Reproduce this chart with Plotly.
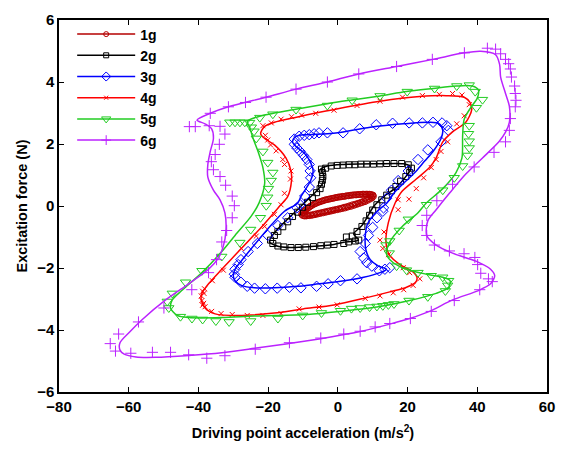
import plotly.graph_objects as go

# ---------------- data ----------------
labels = ["1g", "2g", "3g", "4g", "5g", "6g"]
colors = ["#b40000", "#000000", "#0000ff", "#ff0000", "#22cc22", "#bb22ff"]
symbols = ["circle-open", "square-open", "diamond-open", "x-thin-open", "triangle-down-open", "cross-thin-open"]

# 1g
x1_line = [-10.5, -9.0, -6.5, -3.0, 0.0, 3.0, 6.0, 8.5, 10.3, 9.5, 7.0, 4.0, 0.0, -3.0, -6.5, -9.0, -10.5]
y1_line = [-0.28, -0.12, 0.06, 0.20, 0.28, 0.34, 0.37, 0.38, 0.36, 0.25, 0.12, -0.02, -0.14, -0.22, -0.30, -0.33, -0.28]
x1_mk = [-10.4, -9.8, -9.2, -8.5, -7.8, -7.0, -6.2, -5.4, -4.6, -3.8, -3.0, -2.2, -1.4, -0.6, 0.2, 1.0, 1.8, 2.6, 3.4,
         4.2, 5.0, 5.8, 6.6, 7.4, 8.2, 9.0, 9.6, 10.1, 10.2, 9.8, 9.2, 8.5, 7.8, 7.0, 6.2, 5.4, 4.6, 3.8, 3.0, 2.2,
         1.4, 0.6, -0.2, -1.0, -1.8, -2.6, -3.4, -4.2, -5.0, -5.8, -6.6, -7.4, -8.2, -9.0, -9.7, -10.2,
         -10.1, -9.5, -8.8, -8.1, -7.4, -6.6, -5.8, -5.0, -4.2, -3.4, -2.6, -1.8, -1.0, -0.2, 0.6, 1.4, 2.2, 3.0,
         3.8, 4.6, 5.4, 6.2, 7.0, 7.8, 8.6, 9.3, 9.9, 9.5, 8.9, 8.2, 7.4, 6.6, 5.8, 5.0, 4.2, 3.4, 2.6, 1.8, 1.0,
         0.2, -0.6, -1.4, -2.2, -3.0, -3.8, -4.6, -5.4, -6.2, -7.0, -7.8, -8.6, -9.4]
y1_mk = [-0.26, -0.18, -0.12, -0.06, 0.00, 0.05, 0.09, 0.13, 0.16, 0.19, 0.21, 0.23, 0.25, 0.27, 0.29, 0.30, 0.31, 0.33,
         0.34, 0.35, 0.36, 0.37, 0.37, 0.38, 0.38, 0.38, 0.37, 0.35, 0.31, 0.26, 0.22, 0.18, 0.14, 0.11, 0.08, 0.05,
         0.02, -0.01, -0.03, -0.06, -0.08, -0.10, -0.12, -0.14, -0.16, -0.18, -0.20, -0.22, -0.24, -0.26, -0.28,
         -0.30, -0.31, -0.32, -0.32, -0.30,
         -0.22, -0.15, -0.09, -0.03, 0.02, 0.07, 0.11, 0.14, 0.17, 0.20, 0.22, 0.24, 0.26, 0.28, 0.29, 0.31, 0.32,
         0.33, 0.35, 0.36, 0.36, 0.37, 0.38, 0.38, 0.38, 0.37, 0.34, 0.28, 0.24, 0.20, 0.16, 0.12, 0.09, 0.06,
         0.04, 0.01, -0.02, -0.04, -0.07, -0.09, -0.11, -0.13, -0.15, -0.17, -0.19, -0.21, -0.23, -0.25, -0.27,
         -0.29, -0.31, -0.32]

# 2g
x2_line = [-4.9, -3.0, 1.7, 11.2, 18.75, 20.6, 20.9, 19.7, 16.85, 13.1, 10.3, 8.3, 6.9, 4.55, 5.9, 3.0, 1.7, -1.1,
           -7.8, -13.45, -17.7, -19.6, -19.1, -16.3, -12.5, -8.7, -5.9, -4.4, -4.0, -4.9]
y2_line = [1.19, 1.29, 1.34, 1.36, 1.36, 1.29, 1.19, 0.98, 0.61, 0.30, -0.01, -0.38, -0.63, -0.90, -1.10, -1.15,
           -1.17, -1.24, -1.31, -1.34, -1.28, -1.16, -1.0, -0.63, -0.22, 0.20, 0.51, 0.72, 0.98, 1.19]
x2_mk = [-3.5, -1.9, -0.2, 1.5, 3.2, 4.9, 6.6, 8.3, 10.2, 12.1, 14.0, 16.1, 18.3, 20.2, 21.1, 20.6, 19.5, 18.0, 16.65,
         15.4, 14.0, 12.6, 11.2, 10.0, 9.1, 8.1, 6.9, 5.5, 4.1, 2.45, 3.1, 5.0, 6.0, 1.7, -1.1, -3.0, -4.9, -7.0,
         -9.2, -11.35, -13.45, -15.5, -17.2, -18.65, -19.3, -18.2, -17.2, -15.8, -14.4, -13.0, -11.55, -10.1, -8.7,
         -7.3, -6.1, -5.1, -4.7, -4.45, -4.3, -4.45, -4.7]
y2_mk = [1.22, 1.29, 1.31, 1.32, 1.33, 1.33, 1.35, 1.35, 1.35, 1.36, 1.37, 1.37, 1.37, 1.33, 1.22, 1.08, 0.95, 0.80,
         0.63, 0.49, 0.35, 0.20, 0.04, -0.13, -0.30, -0.48, -0.66, -0.82, -0.97, -1.0, -1.16, -1.13, -1.10, -1.21,
         -1.24, -1.26, -1.28, -1.31, -1.33, -1.34, -1.34, -1.32, -1.29, -1.21, -1.10, -0.95, -0.82, -0.67, -0.51,
         -0.34, -0.20, -0.04, 0.12, 0.27, 0.43, 0.56, 0.70, 0.83, 0.95, 1.08, 1.19]

# 3g
x3_line = [-13.0, -12.5, -11.1, -8.7, -3.0, 0.0, 9.3, 18.75, 26.3, 29.1, 30.1, 29.6, 27.3, 24.9, 22.5, 19.7, 16.4,
           14.0, 11.0, 8.5, 7.85, 8.05, 9.3, 11.65, 14.0, 12.1, 7.4, 0.75, -6.8, -11.55, -18.2, -23.9, -27.7, -29.5,
           -30.0, -29.5, -28.1, -24.8, -20.1, -15.3, -11.55, -10.6, -7.8, -7.1, -7.8, -9.65, -12.0, -13.0]
y3_line = [2.07, 2.20, 2.28, 2.30, 2.33, 2.36, 2.54, 2.65, 2.70, 2.65, 2.44, 2.18, 1.76, 1.45, 1.13, 0.82, 0.46,
           0.09, -0.20, -0.58, -1.0, -1.42, -1.73, -1.94, -2.04, -2.15, -2.30, -2.43, -2.53, -2.59, -2.64, -2.64,
           -2.56, -2.41, -2.25, -2.04, -1.83, -1.37, -0.74, -0.17, 0.09, 0.30, 0.82, 1.13, 1.40, 1.71, 1.92, 2.07]
x3_mk = [-12.5, -12.5, -11.75, -10.8, -9.85, -8.9, -8.2, -7.95, -7.8, -8.2, -9.5, -10.8, -11.75, -14.4, -17.2,
         -20.1, -23.1, -25.75, -27.8, -28.6, -29.5, -29.7, -29.5, -27.8, -26.0, -23.9, -20.8, -17.4, -13.9, -10.6,
         -6.1, -2.8, 0.75, 5.5, 11.9, 13.5, 14.9, 9.75, 8.3, 7.4, 6.4, 7.85, 8.8, 10.0, 11.2, 12.9, 13.1, 14.0, 15.4,
         17.3, 20.2, 23.0, 25.8, 29.6, 31.7, 31.25, 29.9, 27.3, 24.25, 20.45, 15.7, 11.0, 6.25, 1.5, -3.0, -5.4,
         -6.8, -8.2, -9.65, -11.1]
y3_mk = [2.16, 1.99, 1.87, 1.76, 1.63, 1.50, 1.34, 1.13, 0.91, 0.61, 0.32, 0.04, -0.06, -0.38, -0.63, -0.95, -1.21,
         -1.47, -1.73, -1.89, -2.04, -2.20, -2.30, -2.46, -2.59, -2.65, -2.67, -2.65, -2.62, -2.64, -2.59, -2.51,
         -2.41, -2.35, -2.09, -2.04, -1.99, -1.94, -1.83, -1.68, -1.47, -1.21, -0.95, -0.69, -0.38, -0.17, -0.06,
         0.25, 0.51, 0.82, 1.13, 1.50, 1.81, 2.07, 2.44, 2.59, 2.68, 2.70, 2.68, 2.68, 2.67, 2.62, 2.49, 2.36, 2.36,
         2.36, 2.33, 2.30, 2.28, 2.25]

# 4g
x4_line = [-22.15, -21.0, -18.2, -12.5, -4.9, 0.0, 12.1, 23.5, 31.05, 36.25, 37.9, 38.4, 36.7, 32.9, 30.1, 28.2,
           26.3, 22.5, 18.3, 16.4, 14.5, 13.8, 14.75, 17.8, 21.1, 22.7, 22.3, 19.7, 14.9, 7.4, -1.1, -10.0, -18.2,
           -28.6, -35.2, -38.1, -39.2, -39.0, -37.1, -33.3, -27.7, -22.0, -16.75, -14.4, -13.3, -13.45, -14.9,
           -18.2, -21.0, -22.15]
y4_line = [2.33, 2.57, 2.70, 2.85, 3.03, 3.14, 3.38, 3.53, 3.56, 3.51, 3.34, 3.11, 2.70, 2.39, 2.07, 1.55, 1.24,
           0.87, 0.46, 0.09, -0.53, -1.16, -1.57, -1.89, -2.09, -2.30, -2.46, -2.62, -2.77, -2.98, -3.19, -3.32,
           -3.45, -3.53, -3.48, -3.29, -3.03, -2.82, -2.51, -2.04, -1.37, -0.69, -0.01, 0.30, 0.82, 1.13, 1.55,
           1.97, 2.18, 2.33]
x4_mk = [-21.5, -19.1, -16.3, -13.3, -10.4, -6.35, -1.1, 5.5, 12.1, 18.55, 24.25, 29.1, 32.9, 35.6, 37.7, 36.25,
         34.1, 31.5, 29.6, 28.2, 26.8, 24.6, 22.5, 20.4, 17.3, 17.3, 13.25, 12.1, 12.9, 14.5, 18.75, 20.6, 23.5,
         21.6, 18.9, 15.9, 12.1, 7.85, -0.2, -5.4, -11.1, -16.3, -21.5, -26.0, -30.3, -33.5, -36.2, -38.1, -38.5,
         -38.8, -39.0, -39.2, -38.8, -38.4, -38.25, -36.0, -32.85, -27.7, -23.4, -21.0, -18.2, -16.3, -15.3,
         -13.6, -13.45, -15.3, -15.8, -17.7, -19.3, -20.1, -20.8]
y4_mk = [2.59, 2.68, 2.80, 2.88, 2.93, 2.99, 3.09, 3.24, 3.38, 3.51, 3.56, 3.60, 3.63, 3.58, 3.27, 2.91, 2.65, 2.07,
         1.76, 1.50, 1.24, 0.91, 0.56, 0.22, 0.20, -0.12, -0.84, -1.10, -1.37, -1.57, -1.99, -2.15, -2.35, -2.56,
         -2.70, -2.80, -2.90, -2.98, -3.19, -3.26, -3.32, -3.47, -3.53, -3.53, -3.50, -3.47, -3.40, -3.25, -3.14,
         -3.20, -3.05, -2.90, -2.75, -2.82, -2.67, -2.41, -2.07, -1.37, -0.97, -0.66, -0.27, 0.04, 0.41, 0.87,
         1.13, 1.34, 1.50, 1.78, 1.97, 2.13, 2.28]

# 5g
x5_line = [-26.0, -22.9, -12.5, -3.0, 4.0, 12.1, 19.7, 27.3, 33.9, 38.6, 40.3, 40.0, 38.1, 36.25, 35.8, 35.6, 33.9,
           30.1, 25.3, 23.0, 18.75, 14.9, 14.0, 15.9, 19.7, 25.4, 30.1, 32.2, 31.8, 28.2, 20.6, 11.2, 0.75, -8.7,
           -23.9, -33.3, -42.8, -46.1, -48.0, -47.5, -44.7, -39.0, -33.3, -29.5, -24.8, -22.6, -21.0, -21.5, -22.9,
           -24.3, -25.3, -26.0]
y5_line = [2.73, 2.88, 3.11, 3.30, 3.42, 3.55, 3.69, 3.79, 3.87, 3.87, 3.74, 3.48, 3.17, 2.80, 2.28, 1.55, 1.08,
           0.56, 0.09, -0.22, -0.63, -1.16, -1.57, -1.83, -2.04, -2.20, -2.30, -2.41, -2.62, -2.82, -3.05, -3.26,
           -3.40, -3.50, -3.55, -3.60, -3.60, -3.53, -3.29, -3.03, -2.72, -2.15, -1.47, -0.95, -0.32, 0.10, 0.72,
           1.24, 1.76, 2.18, 2.54, 2.73]
x5_mk = [-31.0, -29.5, -28.1, -26.7, -25.3, -24.8, -24.05, -23.4, -21.5, -20.1, -18.65, -19.1, -19.9, -20.1,
         -20.55, -22.2, -25.0, -28.1, -33.3, -39.0, -43.7, -47.5, -48.95, -48.5, -45.15, -41.85, -38.8, -35.0,
         -31.2, -25.0, -17.2, -10.1, -4.7, 0.75, 3.9, 6.4, 9.1, 11.2, 12.9, 14.5, 16.1, 20.4, 25.8, 30.85, 31.5,
         31.8, 30.1, 26.8, 23.0, 19.7, 16.85, 14.75, 13.8, 14.9, 17.6, 20.2, 25.4, 30.1, 33.4, 35.8, 37.2, 37.7,
         37.7, 37.5, 37.7, 39.75, 41.5, 39.4, 37.7, 34.1, 27.75, 19.9, 12.1, 4.1, -3.0, -12.0, -18.65, -22.4]
y5_mk = [2.70, 2.70, 2.70, 2.70, 2.69, 2.54, 2.41, 2.18, 1.76, 1.40, 1.08, 0.82, 0.56, 0.28, 0.01, -0.38, -0.76,
         -1.18, -1.63, -2.09, -2.46, -2.82, -3.08, -3.29, -3.57, -3.63, -3.66, -3.71, -3.74, -3.71, -3.63, -3.53,
         -3.45, -3.38, -3.31, -3.29, -3.26, -3.24, -3.22, -3.19, -3.16, -3.05, -2.93, -2.74, -2.56, -2.41, -2.30,
         -2.25, -2.15, -2.07, -1.94, -1.52, -1.26, -1.13, -0.79, -0.43, 0.04, 0.51, 0.91, 1.29, 1.63, 1.87, 2.09,
         2.33, 2.59, 3.17, 3.43, 3.69, 3.90, 3.87, 3.79, 3.69, 3.55, 3.41, 3.24, 3.11, 2.96, 2.85]

# 6g
x6_line = [-40.4, -36.6, -31.4, -20.6, -12.0, -3.0, 6.0, 16.85, 27.3, 36.3, 41.0, 45.25, 46.4, 46.7, 48.1, 49.2,
           49.2, 48.1, 46.2, 41.5, 36.7, 32.0, 28.2, 25.8, 25.5, 28.2, 32.9, 39.6, 43.8, 45.0, 43.8, 40.5, 32.9,
           26.3, 20.6, 14.9, 6.4, -4.9, -14.4, -23.9, -33.3, -42.8, -52.3, -57.9, -61.3, -62.5, -62.5, -59.8,
           -56.1, -49.4, -42.8, -37.1, -34.3, -32.9, -32.1, -32.4, -33.8, -35.7, -37.3, -37.3, -36.6, -35.7,
           -36.2, -38.1, -40.4]
y6_line = [2.77, 2.99, 3.20, 3.51, 3.77, 4.00, 4.26, 4.50, 4.73, 4.94, 4.99, 4.88, 4.57, 4.16, 3.63, 3.22, 2.70,
           2.38, 2.07, 1.55, 1.03, 0.41, -0.12, -0.48, -0.95, -1.26, -1.52, -1.78, -2.04, -2.25, -2.51, -2.72,
           -3.03, -3.40, -3.63, -3.81, -4.05, -4.28, -4.44, -4.59, -4.73, -4.82, -4.88, -4.87, -4.78, -4.65, -4.41,
           -4.07, -3.66, -3.03, -2.51, -2.04, -1.68, -1.31, -0.79, -0.22, 0.20, 0.51, 0.93, 1.34, 1.76, 2.18, 2.49,
           2.65, 2.77]
x6_mk = [-42.6, -40.9, -36.9, -33.8, -32.4, -34.0, -35.2, -36.3, -35.7, -33.8, -32.2, -30.3, -29.7, -30.3, -31.9,
         -33.3, -34.8, -37.1, -41.9, -49.9, -57.2, -62.9, -65.3, -63.8, -59.4, -53.2, -48.0, -42.8, -37.6, -32.4,
         -23.7, -13.9, -4.9, 1.7, 6.4, 10.7, 14.9, 20.8, 26.8, 33.4, 40.7, 43.2, 44.3, 41.0, 40.1, 39.3, 36.2,
         32.0, 27.7, 25.5, 24.2, 25.5, 28.4, 32.9, 39.1, 44.8, 48.1, 49.2, 49.5, 50.9, 51.1, 50.9, 50.7, 49.8,
         49.5, 49.0, 48.1, 46.7, 45.25, 42.9, 36.3, 27.1, 16.85, 6.0, -3.0, -12.0, -20.6, -26.5, -31.4, -36.6]
y6_mk = [2.56, 2.56, 2.59, 2.57, 2.32, 1.99, 1.66, 1.43, 1.17, 0.95, 0.67, 0.32, 0.01, -0.38, -0.79, -1.16, -1.73,
         -2.15, -2.70, -3.29, -3.74, -4.13, -4.44, -4.68, -4.75, -4.72, -4.72, -4.80, -4.91, -4.83, -4.62, -4.41,
         -4.26, -4.13, -4.04, -3.90, -3.79, -3.63, -3.40, -3.05, -2.70, -2.35, -2.44, -2.17, -1.89, -1.66, -1.54,
         -1.45, -1.26, -0.95, -0.63, -0.30, 0.17, 0.70, 1.26, 1.73, 2.07, 2.44, 2.82, 3.20, 3.41, 3.63, 3.87, 4.16,
         4.42, 4.59, 4.73, 4.91, 5.06, 5.09, 4.94, 4.73, 4.50, 4.26, 4.00, 3.77, 3.51, 3.34, 3.20, 2.99]

x_ticks = [-80, -60, -40, -20, 0, 20, 40, 60]
y_ticks = [-6, -4, -2, 0, 2, 4, 6]

lines = [(x1_line, y1_line), (x2_line, y2_line), (x3_line, y3_line),
         (x4_line, y4_line), (x5_line, y5_line), (x6_line, y6_line)]
marks = [(x1_mk, y1_mk), (x2_mk, y2_mk), (x3_mk, y3_mk),
         (x4_mk, y4_mk), (x5_mk, y5_mk), (x6_mk, y6_mk)]
msizes = [6, 6, 8, 5, 9, 8]

FONT = "Liberation Sans, Arial, sans-serif"

fig = go.Figure()
for i in range(len(labels)):
    lx, ly = lines[i]
    mx, my = marks[i]
    fig.add_trace(go.Scatter(x=lx, y=ly, mode="lines", line=dict(color=colors[i], width=1.5, shape="spline",
                                                                  smoothing=0.8),
                             showlegend=False, hoverinfo="skip"))
    fig.add_trace(go.Scatter(x=mx, y=my, mode="markers",
                             marker=dict(symbol=symbols[i], size=msizes[i], color=colors[i],
                                         line=dict(color=colors[i], width=1)),
                             showlegend=False, hoverinfo="skip"))
for i in range(len(labels)):
    fig.add_trace(go.Scatter(x=[None], y=[None], mode="lines+markers", name=labels[i],
                             line=dict(color=colors[i], width=1.5),
                             marker=dict(symbol=symbols[i], size=msizes[i] - 1, color=colors[i],
                                         line=dict(color=colors[i], width=1))))

axis_common = dict(showline=True, linecolor="black", linewidth=1.5, mirror="ticks", ticks="inside",
                   ticklen=5, tickwidth=1, tickcolor="black", showgrid=False, zeroline=False,
                   tickfont=dict(family=FONT, size=15, color="black", weight="bold"))

fig.update_layout(
    width=566, height=450,
    margin=dict(l=59, r=14, t=11, b=55),
    paper_bgcolor="white", plot_bgcolor="white",
    xaxis=dict(range=[-80, 60], tickvals=x_ticks,
               title=dict(text="Driving point acceleration (m/s<sup>2</sup>)", standoff=14,
                          font=dict(family=FONT, size=14.5, color="black", weight="bold")),
               **axis_common),
    yaxis=dict(range=[-6, 6], tickvals=y_ticks,
               title=dict(text="Excitation force (N)", standoff=6,
                          font=dict(family=FONT, size=14.5, color="black", weight="bold")),
               **axis_common),
    legend=dict(x=0.027, y=1.004, xanchor="left", yanchor="top", bgcolor="rgba(0,0,0,0)",
                font=dict(family=FONT, size=14, color="black", weight="bold"),
                itemwidth=58, tracegroupgap=0),
    showlegend=True,
)

fig.write_html("out.html")
